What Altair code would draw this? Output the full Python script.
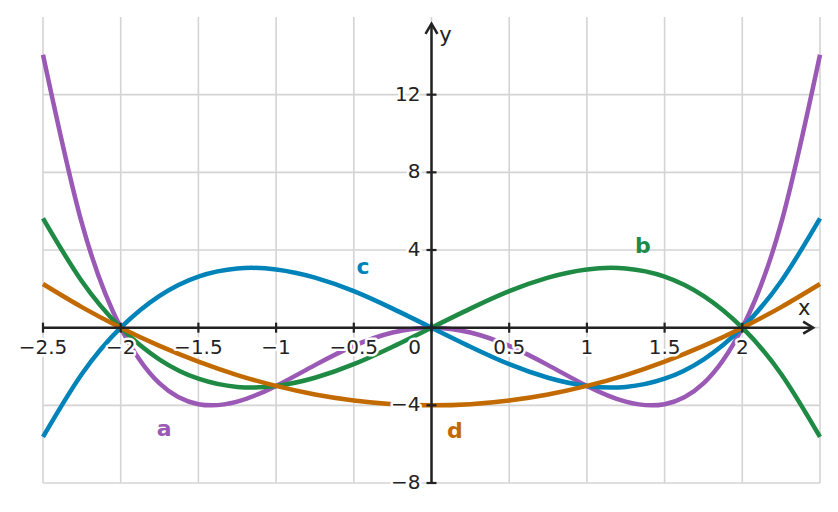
import altair as alt
import pandas as pd

# ---- data ----
xs = [-2.5, -2.25, -2.0, -1.75, -1.5, -1.25, -1.0, -0.75, -0.5, -0.25, 0.0,
      0.25, 0.5, 0.75, 1.0, 1.25, 1.5, 1.75, 2.0, 2.25, 2.5]
a_vals = [14.06, 5.38, 0, -2.87, -3.94, -3.81, -3.0, -1.93, -0.94, -0.25, 0,
          -0.25, -0.94, -1.93, -3.0, -3.81, -3.94, -2.87, 0, 5.38, 14.06]
b_vals = [5.63, 2.39, 0, -1.64, -2.63, -3.05, -3.0, -2.58, -1.88, -0.98, 0,
          0.98, 1.88, 2.58, 3.0, 3.05, 2.63, 1.64, 0, -2.39, -5.63]
c_vals = [-5.63, -2.39, 0, 1.64, 2.63, 3.05, 3.0, 2.58, 1.88, 0.98, 0,
          -0.98, -1.88, -2.58, -3.0, -3.05, -2.63, -1.64, 0, 2.39, 5.63]
d_vals = [2.25, 1.06, 0, -0.94, -1.75, -2.44, -3.0, -3.44, -3.75, -3.94, -4.0,
          -3.94, -3.75, -3.44, -3.0, -2.44, -1.75, -0.94, 0, 1.06, 2.25]

series_names = ["a", "b", "c", "d"]
series_colors = ["#9b59b6", "#1e8a44", "#0083b8", "#c26a00"]
label_x = [-1.72, 1.36, -0.44, 0.15]
label_y = [-5.2, 4.2, 3.1, -5.3]

grid_x = [-2.5, -2.0, -1.5, -1.0, -0.5, 0.0, 0.5, 1.0, 1.5, 2.0, 2.5]
grid_y = [-8, -4, 0, 4, 8, 12]
tick_x = [-2.5, -2.0, -1.5, -1.0, -0.5, 0.0, 0.5, 1.0, 1.5, 2.0]
tick_y = [-8, -4, 0, 4, 8, 12]
xlab_vals = [-2.5, -2.0, -1.5, -1.0, -0.5, 0.5, 1.0, 1.5, 2.0]
xlab_text = ["\u22122.5", "\u22122", "\u22121.5", "\u22121", "\u22120.5", "0.5", "1", "1.5", "2"]
ylab_vals = [12, 8, 4, -4, -8]
ylab_text = ["12", "8", "4", "\u22124", "\u22128"]
origin_label = ["0"]
x_min, x_max, y_min, y_max = -2.5, 2.5, -8, 16
x_arrow_tip = 2.456
y_arrow_tip = 15.65

FONT = "DejaVu Sans"
AX = "#222222"

xsc = alt.Scale(domain=[x_min, x_max], nice=False, zero=False)
ysc = alt.Scale(domain=[y_min, y_max], nice=False, zero=False)

def X(f="x"):
    return alt.X(f"{f}:Q", scale=xsc, axis=None)

def Y(f="y"):
    return alt.Y(f"{f}:Q", scale=ysc, axis=None)

rows = []
for name, vals in zip(series_names, [a_vals, b_vals, c_vals, d_vals]):
    for xv, yv in zip(xs, vals):
        rows.append({"s": name, "x": xv, "y": yv})
curves = pd.DataFrame(rows)

color = alt.Color("s:N", scale=alt.Scale(domain=series_names, range=series_colors), legend=None)

vgrid = alt.Chart(pd.DataFrame({"x": grid_x})).mark_rule(color="#d4d4d4", strokeWidth=1.6).encode(x=X())
hgrid = alt.Chart(pd.DataFrame({"y": grid_y})).mark_rule(color="#d4d4d4", strokeWidth=1.6).encode(y=Y())

xaxis = alt.Chart(pd.DataFrame({"x": [x_min], "x2": [x_arrow_tip], "y": [0]})).mark_rule(
    color=AX, strokeWidth=2.5).encode(x=X(), x2="x2:Q", y=Y())
yaxis = alt.Chart(pd.DataFrame({"y": [y_min], "y2": [y_arrow_tip], "x": [0]})).mark_rule(
    color=AX, strokeWidth=2.5).encode(y=Y(), y2="y2:Q", x=X())

xticks = alt.Chart(pd.DataFrame({"x": tick_x, "y": [0] * len(tick_x)})).mark_point(
    shape="M0,-1L0,1", size=100, filled=False, color=AX, strokeWidth=2.2, opacity=1).encode(x=X(), y=Y())
yticks = alt.Chart(pd.DataFrame({"y": tick_y, "x": [0] * len(tick_y)})).mark_point(
    shape="M-1,0L1,0", size=100, filled=False, color=AX, strokeWidth=2.2, opacity=1).encode(x=X(), y=Y())

xarrow = alt.Chart(pd.DataFrame({"x": [x_arrow_tip], "y": [0]})).mark_point(
    shape="M-1,-0.6L0,0L-1,0.6", size=400, filled=False, color=AX, strokeWidth=2.5,
    opacity=1, strokeJoin="miter").encode(x=X(), y=Y())
yarrow = alt.Chart(pd.DataFrame({"x": [0], "y": [y_arrow_tip]})).mark_point(
    shape="M-0.6,1L0,0L0.6,1", size=400, filled=False, color=AX, strokeWidth=2.5,
    opacity=1, strokeJoin="miter").encode(x=X(), y=Y())

lines = alt.Chart(curves).mark_line(strokeWidth=4.5, interpolate="natural").encode(
    x=X(), y=Y(), color=color, detail="s:N", order="x:Q")

def halo_text(df, **kw):
    base = alt.Chart(df)
    halo = base.mark_text(font=FONT, fontSize=20, color="white", stroke="white",
                          strokeWidth=5, strokeJoin="round", **kw).encode(x=X(), y=Y(), text="t:N")
    txt = base.mark_text(font=FONT, fontSize=20, color=AX, **kw).encode(x=X(), y=Y(), text="t:N")
    return halo + txt

xlabels = halo_text(pd.DataFrame({"x": xlab_vals, "y": [0] * len(xlab_vals), "t": xlab_text}),
                    align="center", baseline="middle", dy=20)
ylabels = halo_text(pd.DataFrame({"y": ylab_vals, "x": [0] * len(ylab_vals), "t": ylab_text}),
                    align="right", baseline="middle", dx=-11)
olabel = halo_text(pd.DataFrame({"x": [0], "y": [0], "t": origin_label}),
                   align="center", baseline="middle", dx=-17, dy=20)

xname = alt.Chart(pd.DataFrame({"x": [x_arrow_tip], "y": [0], "t": ["x"]})).mark_text(
    font=FONT, fontSize=21, color=AX, dx=-9, dy=-19).encode(x=X(), y=Y(), text="t:N")
yname = alt.Chart(pd.DataFrame({"x": [0], "y": [y_arrow_tip], "t": ["y"]})).mark_text(
    font=FONT, fontSize=21, color=AX, dx=14, dy=12).encode(x=X(), y=Y(), text="t:N")

slabels = alt.Chart(pd.DataFrame({"x": label_x, "y": label_y, "s": series_names})).mark_text(
    font=FONT, fontSize=22, fontWeight="bold").encode(x=X(), y=Y(), text="s:N", color=color)

chart = alt.layer(
    vgrid, hgrid, lines, xaxis, yaxis, xticks, yticks, xarrow, yarrow,
    xlabels, ylabels, olabel, xname, yname, slabels
).properties(
    width=777, height=466,
    autosize=alt.AutoSizeParams(type="none"),
    padding={"left": 35, "top": 9, "right": 5, "bottom": 20},
).configure_view(strokeWidth=0)

chart.save("out.html", embed_options={"renderer": "svg", "actions": False})
